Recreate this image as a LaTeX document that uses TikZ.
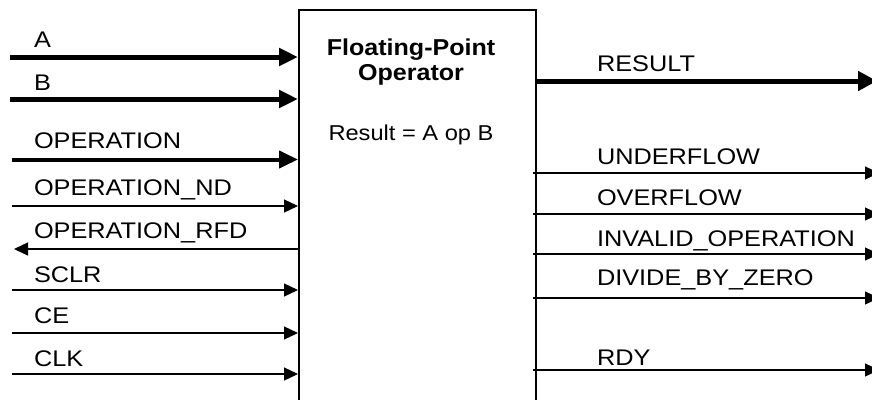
\documentclass[tikz,border=0pt]{standalone}
\usepackage{fontspec}
\setmainfont{Liberation Sans}
\usepackage{graphicx}
\usetikzlibrary{arrows.meta}
% signal names are set slightly wide
\newcommand\sig[1]{\scalebox{1.12}[1]{#1}}
\begin{document}
\begin{tikzpicture}[x=1pt,y=-1pt,
  every node/.style={inner sep=0pt, outer sep=0pt},
  siglabel/.style={anchor=base west, font=\fontsize{22.6}{26}\selectfont},
  titletext/.style={anchor=base, font=\fontsize{23}{27}\selectfont\bfseries},
  bodytext/.style={anchor=base, font=\fontsize{21.5}{26}\selectfont},
  busline/.style={line width=5pt, -{Triangle[length=19pt,width=17pt]}},
  wireline/.style={line width=1.3pt, -{Triangle[length=14pt,width=13pt]}},
  blockbox/.style={draw, line width=1.4pt, minimum width=237pt, minimum height=420pt, anchor=north west}]
\useasboundingbox (0,0) rectangle (872,399);
\clip (0,0) rectangle (872,399);

% the operator block
\node[blockbox] (op) at (299,10) {};
\node[titletext] (t1) at (411,55) {\scalebox{1.09}[1]{Floating-Point}};
\node[titletext] (t2) at (411,80) {\scalebox{1.09}[1]{Operator}};
\node[bodytext] (t3) at (411,140) {\scalebox{1.1}[1]{Result = A op B}};

% input free ends
\coordinate (inA)   at (10,57);
\coordinate (inB)   at (10,99);
\coordinate (inOp)  at (12,159.5);
\coordinate (inNd)  at (12,206);
\coordinate (outRfd) at (14,249);
\coordinate (inSclr) at (12,290);
\coordinate (inCe)  at (12,333);
\coordinate (inClk) at (12,374);

% output free ends
\coordinate (outRes) at (877,81);
\coordinate (outUf)  at (879,173);
\coordinate (outOf)  at (879,214);
\coordinate (outInv) at (879,254);
\coordinate (outDbz) at (879,298);
\coordinate (outRdy) at (879,370);

% input connectors
\draw[busline, line width=5pt] (inA) -- ([xshift=-1pt]inA -| op.west);
\draw[busline] (inB) -- ([xshift=-1pt]inB -| op.west);
\draw[busline, line width=4pt] (inOp) -- ([xshift=-1pt]inOp -| op.west);
\draw[wireline] (inNd) -- ([xshift=-1pt]inNd -| op.west);
\draw[wireline] (outRfd -| op.west) -- (outRfd);
\draw[wireline] (inSclr) -- ([xshift=-1pt]inSclr -| op.west);
\draw[wireline] (inCe) -- ([xshift=-1pt]inCe -| op.west);
\draw[wireline] (inClk) -- ([xshift=-1pt]inClk -| op.west);

% output connectors
\draw[busline, -{Triangle[length=19pt,width=19pt]}] (outRes -| op.east) -- (outRes);
\draw[wireline] ([xshift=-3pt]outUf -| op.east) -- (outUf);
\draw[wireline] ([xshift=-3pt]outOf -| op.east) -- (outOf);
\draw[wireline] ([xshift=-3pt]outInv -| op.east) -- (outInv);
\draw[wireline] ([xshift=-3pt]outDbz -| op.east) -- (outDbz);
\draw[wireline] ([xshift=-3pt]outRdy -| op.east) -- (outRdy);

% input names
\node[siglabel] (lA)    at (34,47)  {\sig{A}};
\node[siglabel] (lB)    at (34,90)  {\sig{B}};
\node[siglabel] (lOp)   at (34,148) {\sig{OPERATION}};
\node[siglabel] (lNd)   at (34,195) {\sig{OPERATION\_ND}};
\node[siglabel] (lRfd)  at (34,238) {\sig{OPERATION\_RFD}};
\node[siglabel] (lSclr) at (34,282) {\sig{SCLR}};
\node[siglabel] (lCe)   at (34,323) {\sig{CE}};
\node[siglabel] (lClk)  at (34,366) {\sig{CLK}};

% output names
\node[siglabel] (lRes) at (597,71)  {\sig{RESULT}};
\node[siglabel] (lUf)  at (597,164) {\sig{UNDERFLOW}};
\node[siglabel] (lOf)  at (597,205) {\sig{OVERFLOW}};
\node[siglabel] (lInv) at (597,246) {\sig{INVALID\_OPERATION}};
\node[siglabel] (lDbz) at (597,285) {\sig{DIVIDE\_BY\_ZERO}};
\node[siglabel] (lRdy) at (597,365) {\sig{RDY}};
\end{tikzpicture}
\end{document}
